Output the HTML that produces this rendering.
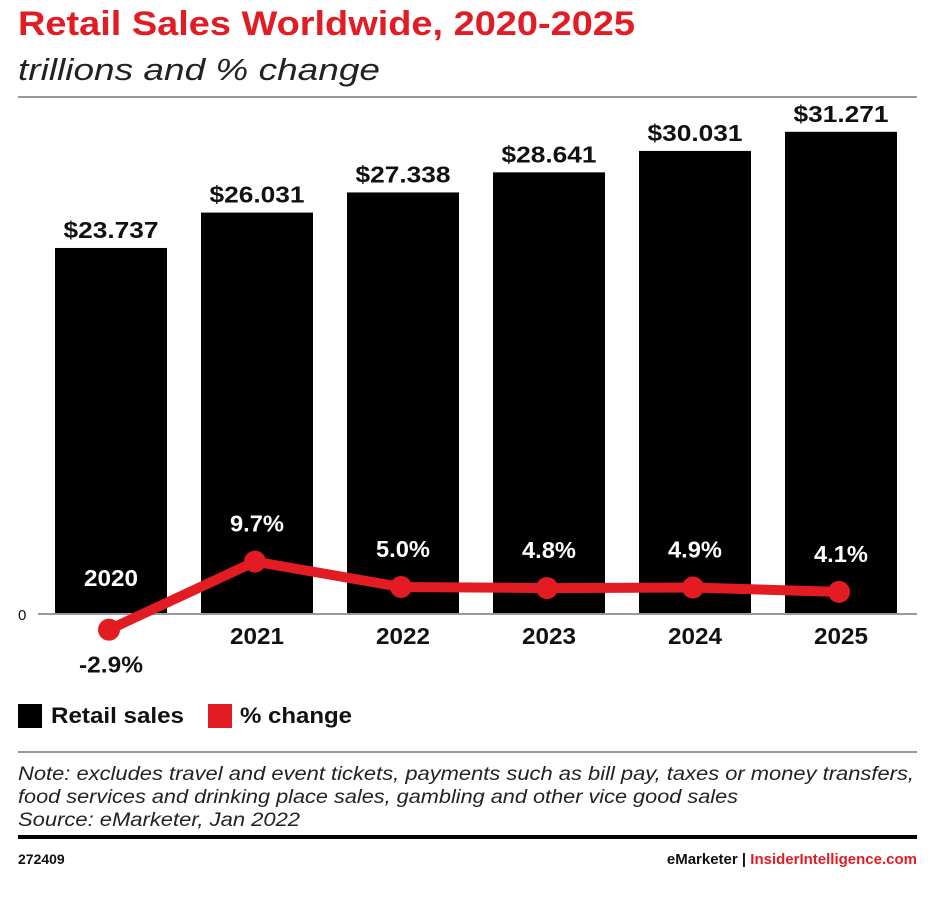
<!DOCTYPE html>
<html><head><meta charset="utf-8"><style>
body{margin:0;background:#fff;width:934px;height:896px;overflow:hidden;font-family:"Liberation Sans",sans-serif}
</style></head><body>
<svg width="934" height="896" xmlns="http://www.w3.org/2000/svg" font-family="Liberation Sans, sans-serif">
<text x="18" y="35" font-size="34" font-weight="bold" fill="#e31b23" textLength="617" lengthAdjust="spacingAndGlyphs">Retail Sales Worldwide, 2020-2025</text>
<text x="18" y="80" font-size="31" font-style="italic" fill="#222" textLength="362" lengthAdjust="spacingAndGlyphs">trillions and % change</text>
<rect x="18" y="96" width="899" height="2" fill="#999"/>
<g id="plot"></g>
<rect x="18" y="704" width="24" height="24" fill="#000"/>
<text x="51" y="723" font-size="22" font-weight="bold" fill="#111" textLength="133" lengthAdjust="spacingAndGlyphs">Retail sales</text>
<rect x="208" y="704" width="24" height="24" fill="#e31b23"/>
<text x="240" y="723" font-size="22" font-weight="bold" fill="#111" textLength="112" lengthAdjust="spacingAndGlyphs">% change</text>
<rect x="18" y="751" width="899" height="2" fill="#999"/>
<g font-size="19" font-style="italic" fill="#222">
<text x="18" y="780" textLength="896" lengthAdjust="spacingAndGlyphs">Note: excludes travel and event tickets, payments such as bill pay, taxes or money transfers,</text>
<text x="18" y="803" textLength="720" lengthAdjust="spacingAndGlyphs">food services and drinking place sales, gambling and other vice good sales</text>
<text x="18" y="826" textLength="282" lengthAdjust="spacingAndGlyphs">Source: eMarketer, Jan 2022</text></g>
<rect x="18" y="835" width="899" height="4" fill="#000"/>
<text x="18" y="864" font-size="14" font-weight="bold" fill="#111">272409</text>
<text x="917" y="864" font-size="15" font-weight="bold" text-anchor="end"><tspan fill="#111">eMarketer  |  </tspan><tspan fill="#e31b23">InsiderIntelligence.com</tspan></text>
</svg>
<script>
const years=["2020","2021","2022","2023","2024","2025"];
const sales=[23.737,26.031,27.338,28.641,30.031,31.271];
const salesLabels=["$23.737","$26.031","$27.338","$28.641","$30.031","$31.271"];
const change=[-2.9,9.7,5.0,4.8,4.9,4.1];
const changeLabels=["-2.9%","9.7%","5.0%","4.8%","4.9%","4.1%"];
const NS="http://www.w3.org/2000/svg";
const g=document.getElementById('plot');
const base=614;
const xC=i=>111+i*146;
const yS=v=>base-v*15.42;
const yP=v=>base-v*5.4;
function mk(t,a,txt){const e=document.createElementNS(NS,t);for(const k in a)e.setAttribute(k,a[k]);if(txt!=null)e.textContent=txt;g.appendChild(e);return e;}
years.forEach((y,i)=>{
 const b=mk('rect',{x:xC(i)-56,y:yS(sales[i]),width:112,height:base-yS(sales[i]),fill:'#000'});
 
 
 const l=mk('text',{x:xC(i),y:yS(sales[i])-10,'font-size':23,'font-weight':'bold','text-anchor':'middle',fill:'#111',textLength:95,lengthAdjust:'spacingAndGlyphs'},salesLabels[i]);
 
 
});
const ax=mk('rect',{x:38,y:base-1,width:879,height:2,fill:'#999'});


const z=mk('text',{x:18,y:base+6,'font-size':15,fill:'#111'},'0');


years.forEach((y,i)=>{
 const inside=i===0;
 const t=mk('text',{x:xC(i),y:inside?base-28:base+30,'font-size':23,'font-weight':'bold','text-anchor':'middle',fill:inside?'#fff':'#111',textLength:54,lengthAdjust:'spacingAndGlyphs'},y);
 
 
});
const pts=change.map((v,i)=>(xC(i)-2)+','+yP(v)).join(' ');
const ln=mk('polyline',{points:pts,fill:'none',stroke:'#e31b23','stroke-width':10,'stroke-linejoin':'round'});


change.forEach((v,i)=>{
 const c=mk('circle',{cx:xC(i)-2,cy:yP(v),r:11,fill:'#e31b23'});
 
 
 const neg=v<0;
 const t=mk('text',{x:xC(i),y:neg?yP(v)+43:yP(v)-30,'font-size':23,'font-weight':'bold','text-anchor':'middle',fill:neg?'#111':'#fff',textLength:neg?64:54,lengthAdjust:'spacingAndGlyphs'},changeLabels[i]);
 
 
});
</script>
</body></html>
